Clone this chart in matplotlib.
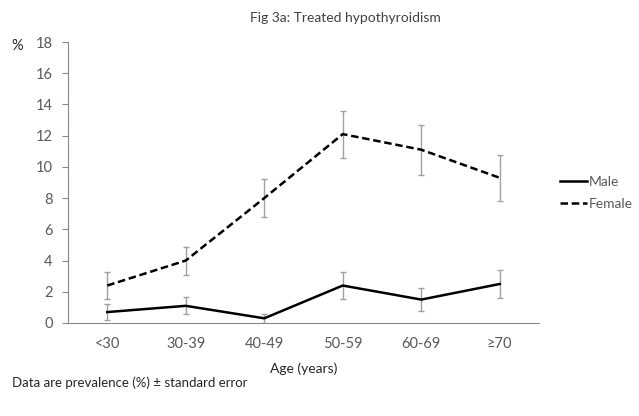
import matplotlib.pyplot as plt
import matplotlib

matplotlib.rcParams['font.family'] = ['Lato', 'DejaVu Sans']

age_groups = ['<30', '30-39', '40-49', '50-59', '60-69', '≥70']
male = [0.7, 1.1, 0.3, 2.4, 1.5, 2.5]
male_se = [0.5, 0.55, 0.3, 0.85, 0.72, 0.92]
female = [2.4, 4.0, 8.0, 12.1, 11.1, 9.3]
female_se = [0.85, 0.9, 1.2, 1.5, 1.6, 1.47]

grey = '#595959'
fig = plt.figure(figsize=(6.39, 4.16), dpi=100)
ax = fig.add_axes([68 / 639, 1 - 323 / 416, 471 / 639, 281 / 416])

x = range(len(age_groups))
ax.errorbar(x, male, yerr=male_se, color='black', lw=1.8, ecolor='#a0a0a0',
            elinewidth=1.0, capsize=2.5, capthick=1.0, label='Male')
ax.errorbar(x, female, yerr=female_se, color='black', lw=1.8, ls=(0, (3, 1.5)),
            ecolor='#a0a0a0', elinewidth=1.0, capsize=2.5, capthick=1.0,
            label='Female')

ax.set_xlim(-0.5, len(age_groups) - 0.5)
ax.set_ylim(0, 18)
ax.set_yticks(range(0, 19, 2))
ax.set_xticks(list(x))
ax.set_xticklabels(age_groups)
ax.tick_params(axis='x', length=0, pad=10, colors=grey, labelsize=10.5)
ax.tick_params(axis='y', length=4, pad=7, colors='#888888', labelcolor=grey, labelsize=10.5)
for s in ['top', 'right']:
    ax.spines[s].set_visible(False)
for s in ['left', 'bottom']:
    ax.spines[s].set_color('#888888')

ax.set_xlabel('Age (years)', fontsize=10, color='#262626', labelpad=8)
fig.text(17 / 639, 1 - 46 / 416, '%', fontsize=10.5, color='#262626', ha='center', va='center')
fig.text(345 / 639, 1 - 18 / 416, 'Fig 3a: Treated hypothyroidism', fontsize=10,
         color='#404040', ha='center', va='center')
fig.text(12 / 639, 1 - 383 / 416, 'Data are prevalence (%) ± standard error',
         fontsize=9.5, color='#262626', ha='left', va='center')

handles, labels = ax.get_legend_handles_labels()
handles = [h[0] for h in handles]
fig.legend(handles, labels, loc='center left', bbox_to_anchor=(547 / 639, 1 - 193 / 416),
           frameon=False, fontsize=10, handlelength=2.0, handletextpad=0.1,
           labelcolor=grey, labelspacing=0.75)

fig.savefig('out.png', dpi=100)
